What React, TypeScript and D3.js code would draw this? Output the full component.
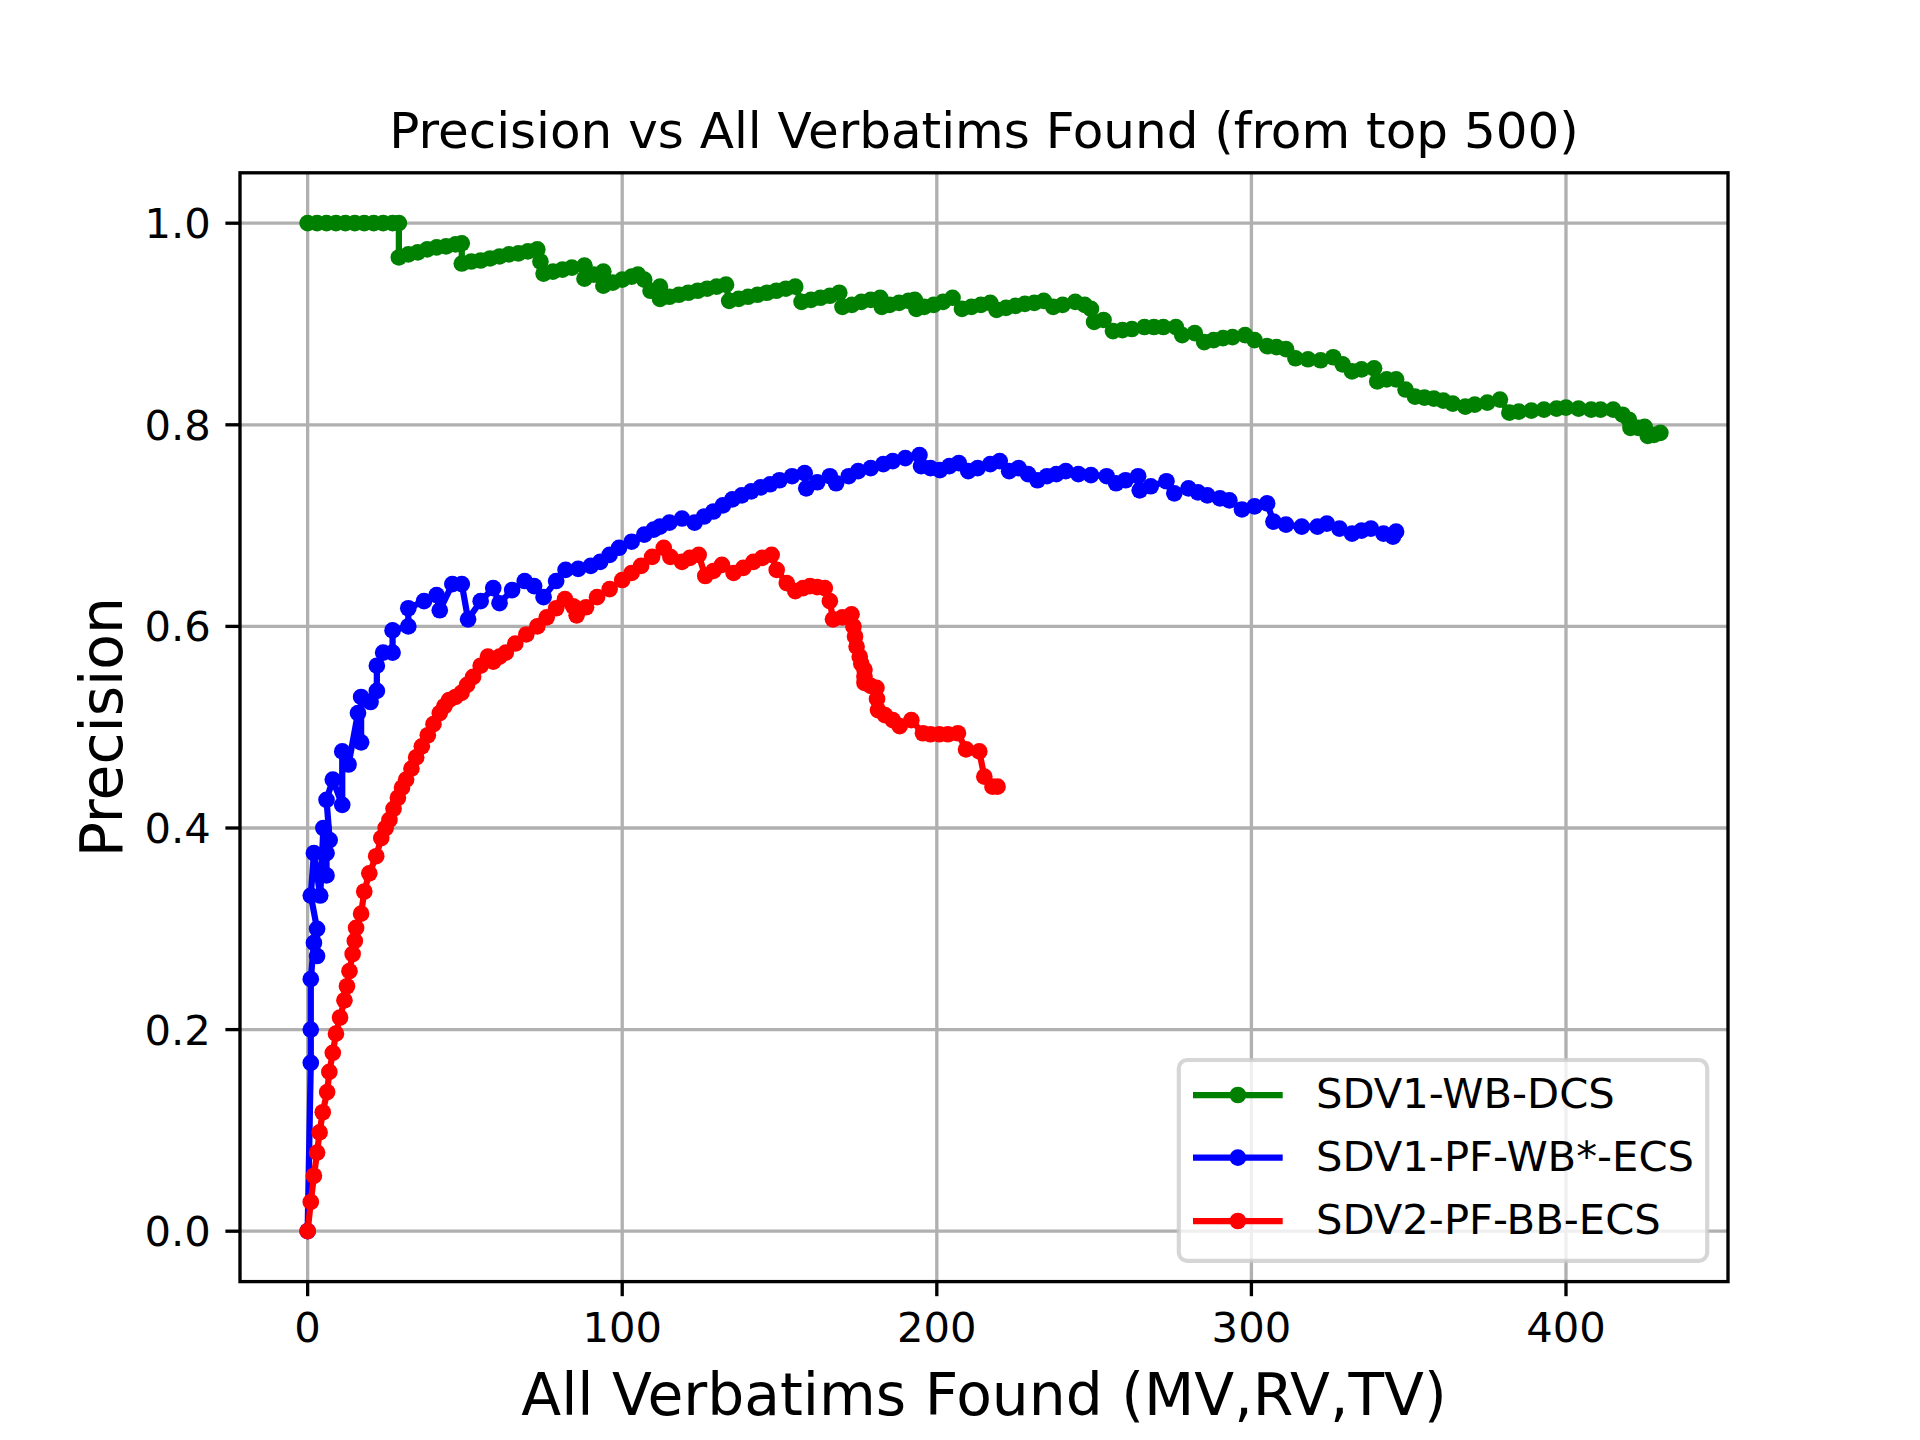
import * as d3 from "d3"

// precision curves
const greenX = [0, 3, 6, 9, 12, 15, 18, 21, 24, 27, 29, 29, 32, 35, 38, 41, 44, 47, 49, 49, 52, 55, 58, 61, 64, 67, 70, 73, 74, 75, 78, 81, 84, 88, 88, 91, 94, 94, 97, 100, 103, 105, 107, 109, 112, 112, 115, 118, 121, 124, 127, 130, 133, 134, 137, 140, 143, 146, 149, 152, 155, 157, 160, 163, 166, 169, 170, 173, 176, 179, 182, 182.5, 185, 188, 191, 193, 193.5, 196, 199, 202, 205, 208, 211, 214, 217, 219, 222, 225, 228, 231, 234, 237, 240, 244, 247, 249, 250, 253, 256, 259, 262, 266, 269, 272, 276, 278, 282, 285, 288, 291, 294, 298, 301, 305, 308, 311, 314, 318, 322, 326, 329, 332, 335, 339, 340, 343, 346, 349, 352, 355, 358, 361, 364, 368, 371, 375, 379, 382, 385, 389, 393, 397, 400, 404, 408, 411, 415, 418, 420, 420.5, 423, 425, 426, 428, 430]
const greenY = [1, 1, 1, 1, 1, 1, 1, 1, 1, 1, 1, 0.966, 0.969, 0.971, 0.974, 0.976, 0.977, 0.979, 0.98, 0.96, 0.962, 0.963, 0.965, 0.967, 0.969, 0.97, 0.972, 0.974, 0.962, 0.95, 0.952, 0.954, 0.956, 0.958, 0.945, 0.949, 0.952, 0.938, 0.941, 0.944, 0.947, 0.949, 0.944, 0.933, 0.937, 0.925, 0.927, 0.929, 0.931, 0.933, 0.935, 0.937, 0.939, 0.923, 0.925, 0.927, 0.929, 0.931, 0.933, 0.935, 0.937, 0.922, 0.924, 0.926, 0.928, 0.931, 0.917, 0.919, 0.922, 0.924, 0.926, 0.917, 0.919, 0.921, 0.923, 0.924, 0.915, 0.917, 0.919, 0.922, 0.926, 0.915, 0.917, 0.919, 0.921, 0.914, 0.916, 0.918, 0.92, 0.921, 0.923, 0.917, 0.919, 0.922, 0.919, 0.915, 0.902, 0.904, 0.893, 0.894, 0.895, 0.897, 0.897, 0.897, 0.897, 0.889, 0.891, 0.882, 0.884, 0.886, 0.887, 0.889, 0.884, 0.878, 0.877, 0.875, 0.866, 0.865, 0.864, 0.867, 0.86, 0.853, 0.855, 0.856, 0.843, 0.845, 0.845, 0.835, 0.828, 0.827, 0.826, 0.824, 0.821, 0.818, 0.82, 0.822, 0.825, 0.812, 0.813, 0.814, 0.815, 0.816, 0.817, 0.816, 0.815, 0.815, 0.815, 0.81, 0.805, 0.797, 0.797, 0.798, 0.789, 0.79, 0.792]

const blueX = [0, 1, 1, 1, 2, 3, 3, 1, 2, 4, 5, 6, 6, 7, 6, 8, 11, 11, 13, 16, 17, 17, 20, 22, 22, 24, 27, 27, 32, 32, 37, 41, 42, 46, 49, 51, 55, 59, 61, 65, 69, 72, 75, 79, 82, 86, 90, 93, 96, 99, 103, 107, 110, 112, 115, 119, 123, 126, 129, 132, 135, 138, 141, 144, 147, 150, 154, 158, 158.5, 162, 166, 168, 172, 175, 179, 183, 186, 190, 194.5, 195, 198, 201, 204, 207, 210, 213, 217, 220, 223, 226, 229, 232, 235, 238, 241, 245, 249, 254, 257, 260, 264, 264.5, 268, 273, 275.5, 280, 283, 286, 290, 293, 297, 301, 305, 307, 311, 316, 321, 324, 328, 332, 335, 338, 342, 345, 346]
const blueY = [0, 0.167, 0.2, 0.25, 0.286, 0.273, 0.3, 0.333, 0.375, 0.333, 0.4, 0.353, 0.375, 0.388, 0.428, 0.448, 0.423, 0.476, 0.463, 0.514, 0.485, 0.53, 0.525, 0.536, 0.561, 0.574, 0.574, 0.596, 0.6, 0.618, 0.625, 0.631, 0.616, 0.642, 0.642, 0.607, 0.625, 0.638, 0.623, 0.636, 0.645, 0.64, 0.629, 0.645, 0.656, 0.657, 0.66, 0.664, 0.671, 0.678, 0.684, 0.691, 0.696, 0.699, 0.703, 0.707, 0.703, 0.709, 0.714, 0.72, 0.726, 0.73, 0.734, 0.738, 0.741, 0.745, 0.749, 0.752, 0.737, 0.743, 0.749, 0.742, 0.749, 0.754, 0.757, 0.761, 0.764, 0.767, 0.77, 0.759, 0.757, 0.755, 0.759, 0.762, 0.754, 0.757, 0.761, 0.764, 0.754, 0.757, 0.751, 0.745, 0.749, 0.751, 0.754, 0.751, 0.75, 0.749, 0.742, 0.745, 0.749, 0.735, 0.739, 0.744, 0.732, 0.737, 0.733, 0.73, 0.727, 0.725, 0.716, 0.719, 0.722, 0.704, 0.701, 0.699, 0.699, 0.702, 0.697, 0.692, 0.695, 0.697, 0.692, 0.689, 0.694]

const redX = [0, 1, 2, 3, 3.8, 4.8, 6.2, 6.9, 8, 9, 10.3, 11.7, 12.5, 13.3, 14.3, 15, 15.4, 17, 18, 19.6, 21.8, 23.4, 24.8, 26, 27.3, 28.7, 30, 31.3, 33, 34.5, 36.3, 38.2, 40, 42, 43.5, 45, 47, 48.9, 50.7, 52.6, 55, 57.3, 59, 61, 63, 66, 69.5, 73, 76, 79, 81.8, 84.4, 85.5, 88.5, 92, 96, 100, 103, 106, 109.5, 113.2, 115.3, 119, 121.5, 124.3, 126.4, 129, 131.7, 135.4, 138.5, 141.7, 144.5, 147.5, 149.1, 152.3, 155, 157.5, 159.7, 162, 164.4, 166, 167, 170, 172.9, 173.5, 174, 174.5, 175.5, 176, 177, 177, 177, 179, 180.8, 181, 181.3, 183.5, 186, 188.2, 191.9, 195.6, 198, 200.8, 203.5, 206.7, 209.3, 213.5, 215.1, 217.7, 219.3]
const redY = [0, 0.029, 0.055, 0.078, 0.098, 0.118, 0.138, 0.158, 0.177, 0.196, 0.212, 0.229, 0.243, 0.258, 0.275, 0.288, 0.301, 0.315, 0.337, 0.355, 0.372, 0.39, 0.4, 0.408, 0.419, 0.43, 0.44, 0.448, 0.459, 0.47, 0.481, 0.492, 0.503, 0.514, 0.521, 0.527, 0.53, 0.534, 0.542, 0.55, 0.561, 0.57, 0.565, 0.57, 0.574, 0.583, 0.592, 0.6, 0.609, 0.618, 0.627, 0.62, 0.611, 0.619, 0.629, 0.637, 0.646, 0.653, 0.66, 0.669, 0.678, 0.669, 0.664, 0.668, 0.671, 0.65, 0.655, 0.661, 0.653, 0.658, 0.664, 0.668, 0.671, 0.656, 0.643, 0.635, 0.638, 0.64, 0.639, 0.638, 0.625, 0.607, 0.609, 0.612, 0.6, 0.59, 0.58, 0.57, 0.563, 0.557, 0.55, 0.544, 0.541, 0.539, 0.528, 0.517, 0.512, 0.507, 0.501, 0.507, 0.494, 0.493, 0.493, 0.493, 0.494, 0.478, 0.476, 0.451, 0.441, 0.441]

const seriesNames = ["SDV1-WB-DCS", "SDV1-PF-WB*-ECS", "SDV2-PF-BB-ECS"]
const seriesColors = ["green", "blue", "red"]
const xTicks = [0, 100, 200, 300, 400]
const yTicks = [0, 0.2, 0.4, 0.6, 0.8, 1.0]

const W = 1920
const H = 1440
const left = 240
const right = 1728
const top = 172.8
const bottom = 1281.6
const font = "DejaVu Sans, sans-serif"

export default function App() {
  const x = d3.scaleLinear().domain([-21.5, 451.5]).range([left, right])
  const y = d3.scaleLinear().domain([-0.05, 1.05]).range([bottom, top])

  const series = [
    { xs: greenX, ys: greenY },
    { xs: blueX, ys: blueY },
    { xs: redX, ys: redY },
  ]

  const line = d3.line<[number, number]>()
    .x(d => x(d[0]))
    .y(d => y(d[1]))

  const legendTop = 1060
  const legendRows = [1095, 1157.7, 1221]

  return (
    <div style={{ position: "absolute", left: 0, top: 0 }}>
      <style>{"body{margin:0}"}</style>
      <svg width={W} height={H} style={{ display: "block", background: "#fff" }} fontFamily={font}>
        <rect x={0} y={0} width={W} height={H} fill="#fff" />

        {/* grid */}
        {xTicks.map(t => (
          <line key={"gx" + t} x1={x(t)} x2={x(t)} y1={top} y2={bottom} stroke="#b0b0b0" strokeWidth={3.33} />
        ))}
        {yTicks.map(t => (
          <line key={"gy" + t} x1={left} x2={right} y1={y(t)} y2={y(t)} stroke="#b0b0b0" strokeWidth={3.33} />
        ))}

        {/* series */}
        {series.map((s, i) => {
          const pts = s.xs.map((v, j) => [v, s.ys[j]] as [number, number])
          return (
            <g key={i}>
              <path d={line(pts) || ""} fill="none" stroke={seriesColors[i]} strokeWidth={6.25} strokeLinejoin="round" />
              {pts.map((p, j) => (
                <circle key={j} cx={x(p[0])} cy={y(p[1])} r={8.33} fill={seriesColors[i]} />
              ))}
            </g>
          )
        })}

        {/* spines */}
        <rect x={left} y={top} width={right - left} height={bottom - top} fill="none" stroke="#000" strokeWidth={3.33} />

        {/* ticks */}
        {xTicks.map(t => (
          <g key={"tx" + t}>
            <line x1={x(t)} x2={x(t)} y1={bottom} y2={bottom + 14.6} stroke="#000" strokeWidth={3.33} />
            <text x={x(t)} y={1342} fontSize={41.7} textAnchor="middle">{t}</text>
          </g>
        ))}
        {yTicks.map(t => (
          <g key={"ty" + t}>
            <line x1={left - 14.6} x2={left} y1={y(t)} y2={y(t)} stroke="#000" strokeWidth={3.33} />
            <text x={210.8} y={y(t) + 15} fontSize={41.7} textAnchor="end">{t.toFixed(1)}</text>
          </g>
        ))}

        {/* labels */}
        <text x={(left + right) / 2} y={148} fontSize={50} textAnchor="middle">Precision vs All Verbatims Found (from top 500)</text>
        <text x={(left + right) / 2} y={1415} fontSize={58.3} textAnchor="middle">All Verbatims Found (MV,RV,TV)</text>
        <text transform={`translate(121.7,${(top + bottom) / 2}) rotate(-90)`} fontSize={58.3} textAnchor="middle">Precision</text>

        {/* legend */}
        <rect x={1178.8} y={legendTop} width={1707.2 - 1178.8} height={1260.8 - legendTop} rx={8.3} ry={8.3}
          fill="#fff" fillOpacity={0.8} stroke="#cccccc" strokeOpacity={0.8} strokeWidth={4.17} />
        {seriesNames.map((name, i) => (
          <g key={name}>
            <line x1={1193} x2={1282.7} y1={legendRows[i]} y2={legendRows[i]} stroke={seriesColors[i]} strokeWidth={6.25} />
            <circle cx={1237.9} cy={legendRows[i]} r={8.33} fill={seriesColors[i]} />
            <text x={1316} y={legendRows[i] + 13.3} fontSize={41.7}>{name}</text>
          </g>
        ))}
      </svg>
    </div>
  )
}
